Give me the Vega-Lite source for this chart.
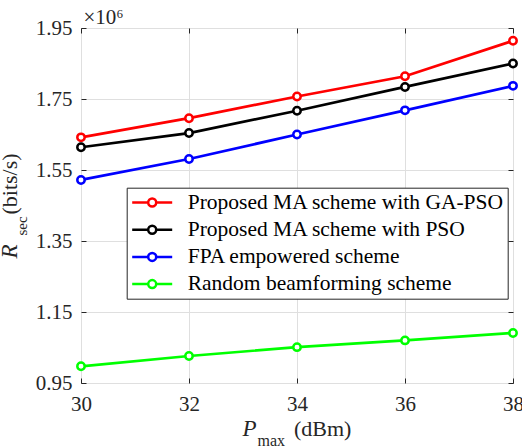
{
  "$schema": "https://vega.github.io/schema/vega-lite/v6.json",
  "width": 432,
  "height": 355,
  "autosize": {"type": "none"},
  "padding": {"left": 81, "top": 28, "right": 9, "bottom": 65},
  "data": {
    "values": [
      {"P": 30, "R": 1642000, "scheme": "Proposed MA scheme with GA-PSO"},
      {"P": 32, "R": 1696000, "scheme": "Proposed MA scheme with GA-PSO"},
      {"P": 34, "R": 1757000, "scheme": "Proposed MA scheme with GA-PSO"},
      {"P": 36, "R": 1814000, "scheme": "Proposed MA scheme with GA-PSO"},
      {"P": 38, "R": 1914000, "scheme": "Proposed MA scheme with GA-PSO"},
      {"P": 30, "R": 1614000, "scheme": "Proposed MA scheme with PSO"},
      {"P": 32, "R": 1654000, "scheme": "Proposed MA scheme with PSO"},
      {"P": 34, "R": 1717000, "scheme": "Proposed MA scheme with PSO"},
      {"P": 36, "R": 1784000, "scheme": "Proposed MA scheme with PSO"},
      {"P": 38, "R": 1850000, "scheme": "Proposed MA scheme with PSO"},
      {"P": 30, "R": 1522000, "scheme": "FPA empowered scheme"},
      {"P": 32, "R": 1581000, "scheme": "FPA empowered scheme"},
      {"P": 34, "R": 1650000, "scheme": "FPA empowered scheme"},
      {"P": 36, "R": 1718000, "scheme": "FPA empowered scheme"},
      {"P": 38, "R": 1787000, "scheme": "FPA empowered scheme"},
      {"P": 30, "R": 997000, "scheme": "Random beamforming scheme"},
      {"P": 32, "R": 1026000, "scheme": "Random beamforming scheme"},
      {"P": 34, "R": 1051000, "scheme": "Random beamforming scheme"},
      {"P": 36, "R": 1070000, "scheme": "Random beamforming scheme"},
      {"P": 38, "R": 1091000, "scheme": "Random beamforming scheme"}
    ]
  },
  "layer": [
    {
      "mark": {"type": "line", "strokeWidth": 2.7},
      "encoding": {
        "x": {
          "field": "P", "type": "quantitative",
          "scale": {"domain": [30, 38], "nice": false, "zero": false},
          "axis": {
            "orient": "bottom", "values": [30, 32, 34, 36, 38],
            "grid": true, "gridColor": "#dfdfdf", "domain": false,
            "tickSize": -5, "tickColor": "#262626",
            "labelFlush": false, "labelOverlap": false,
            "labelFont": "Liberation Serif", "labelFontSize": 21, "labelColor": "#262626",
            "labelBaseline": "alphabetic", "labelPadding": 32.7,
            "title": "P", "titleFont": "Liberation Serif", "titleFontStyle": "italic",
            "titleFontWeight": "normal", "titleFontSize": 23, "titleColor": "#262626",
            "titleX": 161, "titleY": 52, "titleAlign": "left", "titleBaseline": "alphabetic", "titleAngle": 0
          }
        },
        "y": {
          "field": "R", "type": "quantitative",
          "scale": {"domain": [950000, 1950000], "nice": false, "zero": false},
          "axis": {
            "orient": "left", "values": [950000, 1150000, 1350000, 1550000, 1750000, 1950000],
            "labelExpr": "format(datum.value / 1e6, '.2f')",
            "grid": true, "gridColor": "#dfdfdf", "domain": false,
            "tickSize": -5, "tickColor": "#262626",
            "labelFlush": false, "labelOverlap": false,
            "labelFont": "Liberation Serif", "labelFontSize": 21, "labelColor": "#262626",
            "labelAlign": "right", "labelBaseline": "middle", "labelPadding": 14,
            "title": "(bits/s)", "titleFont": "Liberation Serif", "titleFontWeight": "normal",
            "titleFontSize": 22, "titleColor": "#262626",
            "titleX": -65, "titleY": 186, "titleAngle": 270, "titleAlign": "left", "titleBaseline": "alphabetic"
          }
        },
        "color": {
          "field": "scheme", "type": "nominal",
          "scale": {
            "domain": ["Proposed MA scheme with GA-PSO", "Proposed MA scheme with PSO", "FPA empowered scheme", "Random beamforming scheme"],
            "range": ["#ff0000", "#000000", "#0000ff", "#00ff00"]
          },
          "legend": {
            "title": null, "orient": "none", "legendX": 45.7, "legendY": 159.7,
            "symbolType": "M-2,0H-0.4M0.4,0H2M0.4,0A0.4,0.4,0,1,1,-0.4,0A0.4,0.4,0,1,1,0.4,0",
            "symbolSize": 400, "symbolStrokeWidth": 2.5, "symbolOffset": 10.7,
            "labelFont": "Liberation Serif", "labelFontSize": 21.5, "labelColor": "#000000",
            "labelOffset": 24, "labelLimit": 400, "rowPadding": 5.2, "padding": 3.3,
            "strokeColor": "#262626", "fillColor": "#ffffff",
            "encode": {
              "symbols": {
                "update": {
                  "stroke": {"scale": "color", "field": "value"},
                  "fill": {"value": "transparent"},
                  "strokeWidth": {"value": 2.5}
                }
              }
            }
          }
        }
      }
    },
    {
      "mark": {"type": "point", "filled": false, "fill": "#ffffff", "size": 55, "strokeWidth": 2.5, "opacity": 1},
      "encoding": {
        "x": {
          "field": "P", "type": "quantitative",
          "scale": {"domain": [30, 38], "nice": false, "zero": false},
          "axis": {
            "orient": "top", "values": [30, 32, 34, 36, 38],
            "grid": false, "domain": false, "tickSize": -5, "tickColor": "#262626",
            "labelFlush": false, "labelOverlap": false,
            "labelExpr": "datum.value == 30 ? '×10⁶' : datum.value == 34 ? '(dBm)' : ''",
            "labelAlign": "left", "labelBaseline": "alphabetic",
            "labelFont": "Liberation Serif", "labelFontSize": {"condition": {"test": "datum.value == 34", "value": 22}, "value": 21},
            "labelColor": "#262626",
            "labelOffset": {"condition": {"test": "datum.value == 34", "value": -3.5}, "value": 2},
            "labelPadding": {"condition": {"test": "datum.value == 34", "value": -402.5}, "value": 10},
            "title": "max", "titleFont": "Liberation Serif", "titleFontWeight": "normal",
            "titleFontSize": 16, "titleColor": "#262626",
            "titleX": 176, "titleY": 417, "titleAlign": "left", "titleBaseline": "alphabetic", "titleAngle": 0
          }
        },
        "y": {
          "field": "R", "type": "quantitative",
          "scale": {"domain": [950000, 1950000], "nice": false, "zero": false},
          "axis": {
            "orient": "right", "values": [950000, 1150000, 1350000, 1367000, 1550000, 1750000, 1950000],
            "grid": false, "domain": false, "tickColor": "#262626",
            "tickSize": {"condition": {"test": "datum.value == 1367000", "value": 0}, "value": -5},
            "labelFlush": false, "labelOverlap": false,
            "labelExpr": "datum.value == 1367000 ? 'sec' : ''",
            "labelAngle": 270, "labelAlign": "left", "labelBaseline": "alphabetic",
            "labelFont": "Liberation Serif", "labelFontSize": 15, "labelColor": "#262626",
            "labelPadding": -487,
            "title": "R", "titleFont": "Liberation Serif", "titleFontStyle": "italic",
            "titleFontWeight": "normal", "titleFontSize": 23, "titleColor": "#262626",
            "titleX": -496.3, "titleY": 230, "titleAngle": 270, "titleAlign": "left", "titleBaseline": "alphabetic"
          }
        },
        "color": {"field": "scheme", "type": "nominal"}
      }
    }
  ],
  "resolve": {"scale": {"x": "independent", "y": "independent"}},
  "config": {
    "view": {"stroke": "#262626", "strokeWidth": 1},
    "font": "Liberation Serif",
    "style": {
      "guide-label": {"font": "Liberation Serif"},
      "guide-title": {"font": "Liberation Serif"}
    }
  }
}
